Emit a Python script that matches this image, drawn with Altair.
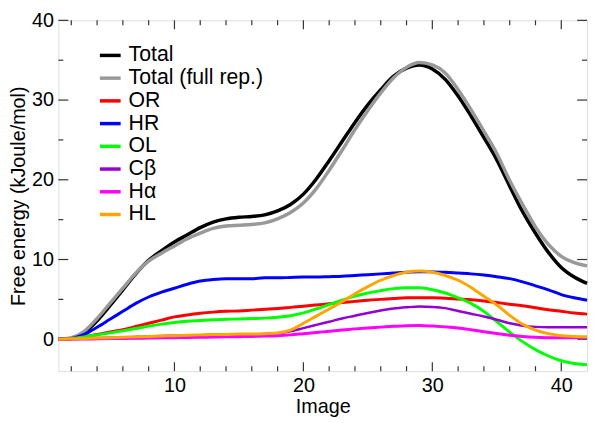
import altair as alt
import pandas as pd

images = list(range(1, 43))

series_names = ["Total", "Total (full rep.)", "OR", "HR", "OL", "Cβ", "Hα", "HL"]
series_colors = ["#000000", "#999999", "#ff0000", "#0000ff", "#00ff00", "#9400d3", "#ff00ff", "#ffa500"]
series_widths = [3.5, 3.5, 3, 3, 3, 2.5, 3, 3]

total = [0, 0.1, 0.8, 2.3, 4.2, 6.2, 8.2, 9.9, 11.1, 12.2, 13.1, 14.0, 14.7, 15.1, 15.3, 15.4, 15.6, 16.1,
         16.9, 18.2, 20.1, 22.4, 24.8, 27.2, 29.4, 31.3, 33.0, 34.0, 34.4, 33.9, 32.6, 30.5, 28.0, 25.3,
         22.5, 19.2, 16.0, 13.3, 10.9, 9.0, 7.8, 7.0]
total_full = [0, 0.2, 1.0, 2.6, 4.5, 6.4, 8.3, 9.8, 10.8, 11.7, 12.6, 13.3, 13.9, 14.2, 14.3, 14.4, 14.6,
              15.1, 15.9, 17.1, 18.9, 21.2, 23.7, 26.3, 28.7, 30.9, 32.8, 34.1, 34.7, 34.4, 33.4, 31.3,
              28.8, 26.1, 23.3, 19.9, 16.9, 14.1, 11.9, 10.4, 9.6, 9.2]
o_r = [0, 0.1, 0.3, 0.6, 0.9, 1.2, 1.6, 2.0, 2.4, 2.8, 3.05, 3.25, 3.4, 3.5, 3.55, 3.65, 3.75, 3.85, 4.0,
       4.15, 4.3, 4.45, 4.6, 4.75, 4.9, 5.0, 5.1, 5.2, 5.2, 5.2, 5.15, 5.05, 4.95, 4.8, 4.6, 4.4, 4.2,
       3.95, 3.7, 3.5, 3.3, 3.15]
h_r = [0, 0.1, 0.6, 1.5, 2.5, 3.5, 4.5, 5.3, 5.9, 6.4, 6.9, 7.3, 7.5, 7.6, 7.6, 7.6, 7.7, 7.7, 7.75, 7.8,
       7.8, 7.85, 7.9, 8.0, 8.1, 8.2, 8.3, 8.4, 8.45, 8.45, 8.4, 8.3, 8.2, 8.05, 7.85, 7.6, 7.2, 6.7,
       6.2, 5.6, 5.2, 4.9]
o_l = [0, 0.1, 0.3, 0.55, 0.8, 1.05, 1.35, 1.65, 1.9, 2.1, 2.25, 2.35, 2.45, 2.5, 2.55, 2.6, 2.65, 2.75,
       2.95, 3.3, 3.8, 4.35, 4.9, 5.4, 5.8, 6.1, 6.35, 6.45, 6.45, 6.2, 5.8, 5.2, 4.5, 3.5, 2.2, 0.9,
       -0.3, -1.3, -2.1, -2.7, -3.05, -3.2]
c_beta = [0, 0.05, 0.1, 0.15, 0.2, 0.25, 0.3, 0.35, 0.4, 0.45, 0.5, 0.5, 0.55, 0.55, 0.6, 0.6, 0.65, 0.75,
          1.0, 1.4, 1.8, 2.2, 2.6, 2.95, 3.3, 3.6, 3.85, 4.0, 4.1, 4.05, 3.9, 3.55, 3.2, 2.85, 2.45, 2.0,
          1.7, 1.55, 1.5, 1.5, 1.5, 1.5]
h_alpha = [0, 0.0, 0.02, 0.05, 0.08, 0.1, 0.12, 0.15, 0.18, 0.2, 0.22, 0.25, 0.27, 0.3, 0.32, 0.35, 0.4,
           0.45, 0.55, 0.7, 0.85, 1.0, 1.15, 1.3, 1.42, 1.52, 1.62, 1.7, 1.72, 1.65, 1.55, 1.42, 1.2,
           0.95, 0.72, 0.5, 0.35, 0.25, 0.2, 0.2, 0.2, 0.2]
h_l = [0, 0.05, 0.1, 0.15, 0.2, 0.25, 0.3, 0.35, 0.4, 0.45, 0.5, 0.55, 0.6, 0.6, 0.65, 0.65, 0.7, 0.8,
       1.15, 2.0, 2.9, 3.8, 4.7, 5.7, 6.6, 7.4, 8.0, 8.4, 8.55, 8.4, 8.0, 7.4, 6.5, 5.4, 4.3, 3.0, 1.9,
       1.15, 0.7, 0.45, 0.35, 0.3]

x_major = [10, 20, 30, 40]
x_minor = [2, 4, 6, 8, 12, 14, 16, 18, 22, 24, 26, 28, 32, 34, 36, 38]
y_major = [0, 10, 20, 30, 40]
y_minor = [5, 15, 25, 35]

all_values = [total, total_full, o_r, h_r, o_l, c_beta, h_alpha, h_l]
rows = []
for k, (name, vals) in enumerate(zip(series_names, all_values)):
    for xi, yi in zip(images, vals):
        rows.append({"series": name, "k": k, "image": xi, "energy": yi, "w": series_widths[k]})
df = pd.DataFrame(rows)

W, H = 535, 355
FONT = "Liberation Sans"

xscale = alt.Scale(domain=[1, 42], nice=False, zero=False)
yscale = alt.Scale(domain=[-4, 40], nice=False, zero=False)

lines = alt.Chart(df).mark_line(interpolate="monotone", strokeCap="butt").encode(
    x=alt.X("image:Q", scale=xscale,
            axis=alt.Axis(title="Image", values=x_major, ticks=False, domain=False, grid=False,
                          labelFontSize=20, titleFontSize=20, labelPadding=5, titlePadding=1,
                          titleFontWeight="normal", labelColor="black", titleColor="black",
                          labelFont=FONT, titleFont=FONT)),
    y=alt.Y("energy:Q", scale=yscale,
            axis=alt.Axis(title="Free energy (kJoule/mol)", values=y_major, ticks=False, domain=False,
                          grid=False, labelFontSize=20, titleFontSize=20, labelPadding=5,
                          titlePadding=3, titleFontWeight="normal", labelColor="black",
                          titleColor="black", labelFont=FONT, titleFont=FONT)),
    color=alt.Color("series:N", sort=series_names,
                    scale=alt.Scale(domain=series_names, range=series_colors),
                    legend=alt.Legend(title=None, orient="none", legendX=40, legendY=23,
                                      symbolType="stroke", symbolSize=441, symbolStrokeWidth=3.5,
                                      labelFontSize=21.5, labelFont=FONT, labelColor="black",
                                      labelOffset=6, rowPadding=-1.5, padding=0, labelLimit=300)),
    strokeWidth=alt.StrokeWidth("w:Q", scale=None),
    detail="k:N",
    order="image:Q",
)

xt_major = pd.DataFrame({"v": x_major})
xt_minor = pd.DataFrame({"v": x_minor})
yt_major = pd.DataFrame({"v": y_major})
yt_minor = pd.DataFrame({"v": y_minor})

tick_color = "#333333"


def xticks(data, length):
    bottom = alt.Chart(data).mark_rule(color=tick_color, strokeWidth=1.2).encode(
        x=alt.X("v:Q", scale=xscale), y=alt.value(H), y2=alt.value(H - length))
    top = alt.Chart(data).mark_rule(color=tick_color, strokeWidth=1.2).encode(
        x=alt.X("v:Q", scale=xscale), y=alt.value(0), y2=alt.value(length))
    return bottom + top


def yticks(data, length):
    left = alt.Chart(data).mark_rule(color=tick_color, strokeWidth=1.2).encode(
        y=alt.Y("v:Q", scale=yscale), x=alt.value(0), x2=alt.value(length))
    right = alt.Chart(data).mark_rule(color=tick_color, strokeWidth=1.2).encode(
        y=alt.Y("v:Q", scale=yscale), x=alt.value(W), x2=alt.value(W - length))
    return left + right


chart = alt.layer(
    xticks(xt_major, 9), xticks(xt_minor, 5), yticks(yt_major, 10), yticks(yt_minor, 5), lines
).properties(
    width=W, height=H,
    autosize=alt.AutoSizeParams(type="none"),
    padding={"left": 51, "top": 10, "right": 5, "bottom": 50},
).configure_view(
    stroke="#333333", strokeWidth=1.5
).configure(background="white")

chart.save("out.html", embed_options={"renderer": "svg", "actions": False})
